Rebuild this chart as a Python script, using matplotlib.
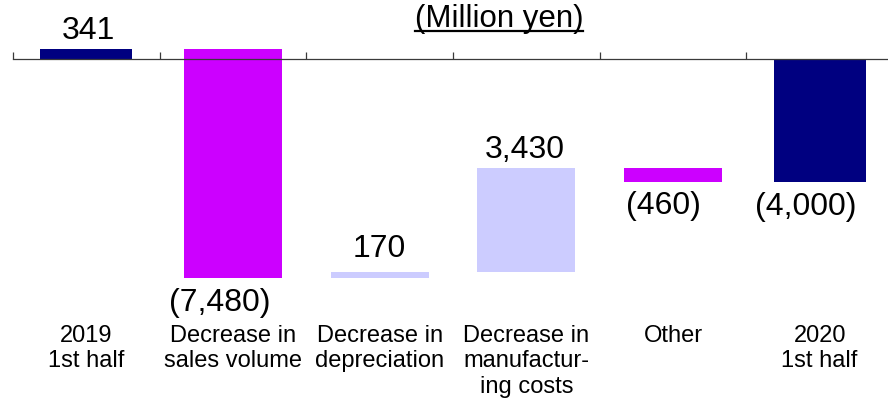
import matplotlib
matplotlib.use("Agg")
import matplotlib.pyplot as plt
from matplotlib.lines import Line2D
from matplotlib.transforms import blended_transform_factory

plt.rcParams["font.family"] = ["Liberation Sans", "DejaVu Sans"]

# Operating income bridge, first half 2019 -> first half 2020 (million yen)
categories = [
    "2019\n1st half",
    "Decrease in\nsales volume",
    "Decrease in\ndepreciation",
    "Decrease in\nmanufactur-\ning costs",
    "Other",
    "2020\n1st half",
]
values = [341, -7480, 170, 3430, -460, -4000]
is_total = [True, False, False, False, False, True]
unit_label = "(Million yen)"

# styling
NAVY = "#000080"
MAGENTA = "#CC00FF"
LAVENDER = "#CCCCFF"
total_width = 0.627
step_width = 0.668
# label nudges in pixels (dx, dy)
label_nudge = [(2, 10), (-13, -25), (0, 15), (-2, 10), (-10, -24), (-14, -25)]

fig = plt.figure(figsize=(8.88, 4.0), dpi=100)
W, H = 888, 400
ax = fig.add_axes([13 / W, 0, 880 / W, 1])

# waterfall geometry from the values
bottoms, heights, colors = [], [], []
running = 0
for v, tot in zip(values, is_total):
    if tot:
        bottoms.append(min(0, v))
        heights.append(abs(v))
        colors.append(NAVY)
        running = v
    else:
        start, end = running, running + v
        bottoms.append(min(start, end))
        heights.append(abs(v))
        colors.append(LAVENDER if v > 0 else MAGENTA)
        running = end

xs = list(range(len(values)))
widths = [total_width if t else step_width for t in is_total]
ax.bar(xs, heights, bottom=bottoms, width=widths, color=colors, linewidth=0)

# vertical scale: ~0.03057 px per million yen, zero line 59.4 px from the top
px_per_unit = 0.03057
zero_px = 59.4
ax.set_ylim(-(H - zero_px) / px_per_unit, zero_px / px_per_unit)
ax.set_xlim(-0.5, len(values) - 0.5)

# axis line at zero with upward ticks at category boundaries
for s in ["top", "right", "left"]:
    ax.spines[s].set_visible(False)
ax.spines["bottom"].set_position(("data", 0))
ax.spines["bottom"].set_color("#3a3a3a")
ax.spines["bottom"].set_linewidth(0.9)
ax.set_xticks([i - 0.5 for i in range(len(values) + 1)])
ax.tick_params(axis="x", direction="in", length=5, width=0.9, color="#3a3a3a",
               labelbottom=False)
ax.set_yticks([])
ax.patch.set_alpha(0)

# value labels
for x, v, b, h, (dx, dy) in zip(xs, values, bottoms, heights, label_nudge):
    text = f"{v:,}" if v > 0 else f"({abs(v):,})"
    if v > 0:
        ax.annotate(text, (x, b + h), xytext=(dx, dy), textcoords="offset pixels",
                    ha="center", va="baseline", fontsize=23)
    else:
        ax.annotate(text, (x, b), xytext=(dx, dy), textcoords="offset pixels",
                    ha="center", va="center", fontsize=23)

# category labels
trans = blended_transform_factory(ax.transData, ax.transAxes)
for x, name in zip(xs, categories):
    ax.text(x, (H - 325) / H, name, transform=trans, ha="center", va="top",
            fontsize=17, linespacing=1.2, multialignment="center")

# underlined unit label
unit = fig.text(499 / W, 1 - 27 / H, unit_label, ha="center", va="baseline",
                fontsize=22.5)
fig.canvas.draw()
bb = unit.get_window_extent()
uy = 1 - 30.5 / H
fig.add_artist(Line2D([bb.x0 / W, bb.x1 / W], [uy, uy], transform=fig.transFigure,
                      color="black", linewidth=1.6))

fig.savefig("out.png", dpi=100)
